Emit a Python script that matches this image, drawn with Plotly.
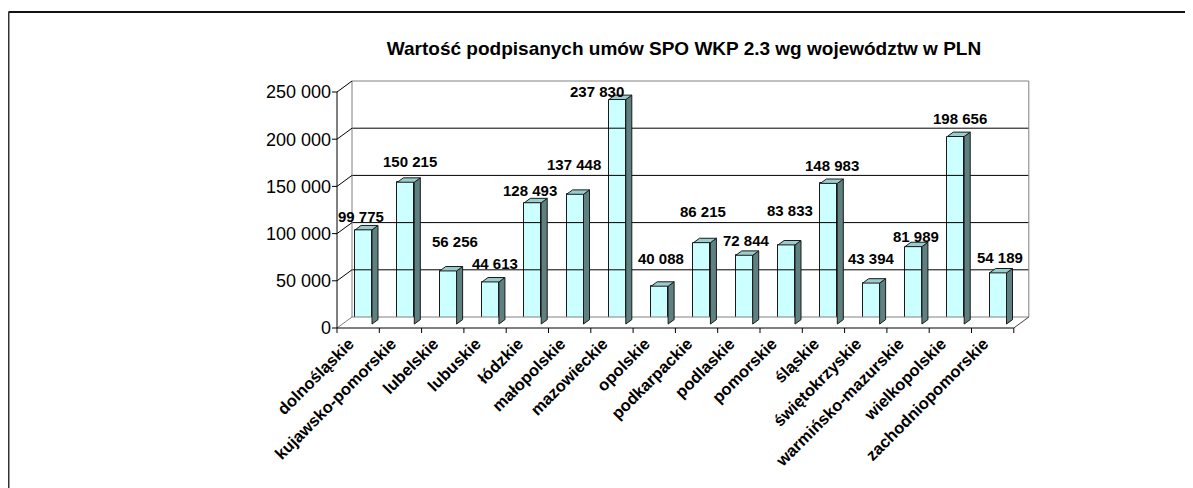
import plotly.graph_objects as go

# ---------------- data ----------------
categories = ["dolnośląskie", "kujawsko-pomorskie", "lubelskie", "lubuskie", "łódzkie",
              "małopolskie", "mazowieckie", "opolskie", "podkarpackie", "podlaskie",
              "pomorskie", "śląskie", "świętokrzyskie", "warmińsko-mazurskie",
              "wielkopolskie", "zachodniopomorskie"]
values = [99775, 150215, 56256, 44613, 128493, 137448, 237830, 40088,
          86215, 72844, 83833, 148983, 43394, 81989, 198656, 54189]
y_ticks = [0, 50000, 100000, 150000, 200000, 250000]
y_tick_labels = ["0", "50 000", "100 000", "150 000", "200 000", "250 000"]
title = "Wartość podpisanych umów SPO WKP 2.3 wg województw w PLN"

# label placement tweaks (pixels, relative to bar top) - layout only
label_dx = [2.5, 9.5, 12, 10, 3, 4, -15, 7, 6, 8, 9, 8.5, 6, 8, 9.6, 7]
label_dy = [13, 20.5, 29, 18.6, 12.7, 30, 8, 28, 31.6, 15, 34, 18, 25, 10.6, 18.5, 15]

# ---------------- geometry ----------------
OFF = 8                          # page body margin
W, H = 1193, 488
ML, MR, MT, MB = 332 - OFF, 162 + OFF, 80 - OFF, 155 + OFF
X0_PX, Y0_PX = 337 - OFF, 328 - OFF   # pixel position of the front origin
PX_X = 42.3                      # pixels per category
PX_Y = 236 / 250000              # pixels per value unit
plot_w = W - ML - MR
plot_h = H - MT - MB
x_range = [(ML - X0_PX) / PX_X, (ML + plot_w - X0_PX) / PX_X]
y_range = [-(H - MB - Y0_PX) / PX_Y, (Y0_PX - MT) / PX_Y]

DX = 15 / PX_X       # depth offset of back wall (x units)
DY = 11 / PX_Y       # depth offset of back wall (y units)
n = len(categories)
ymax = y_ticks[-1]

F0 = 0.36            # bar front depth fraction
DEP = 0.40           # bar depth fraction
BW = 0.40            # bar width (category units)

FRONT = "#CCFFFF"
SIDE = "#5F8080"
TOP = "#99CCCC"
EDGE = "#1a1a1a"
GRAY = "#808080"
FONT = "Liberation Sans, Arial"

fig = go.Figure()


def segs(segments, color, width=1):
    xs, ys = [], []
    for (x1, y1), (x2, y2) in segments:
        xs += [x1, x2, None]
        ys += [y1, y2, None]
    fig.add_trace(go.Scatter(x=xs, y=ys, mode="lines", hoverinfo="skip",
                             line=dict(color=color, width=width), showlegend=False))


# floor & walls
fig.add_trace(go.Scatter(x=[0, n, n + DX, DX, 0], y=[0, 0, DY, DY, 0], mode="lines",
                         fill="toself", fillcolor="white", line=dict(width=0),
                         hoverinfo="skip", showlegend=False))
segs([((DX, v + DY), (n + DX, v + DY)) for v in y_ticks if v not in (0, ymax)], "#000000")
segs([((DX, v + DY), (n + DX, v + DY)) for v in (0, ymax)], GRAY)
segs([((DX, DY), (DX, ymax + DY)), ((n + DX, DY), (n + DX, ymax + DY))], GRAY)
segs([((0, v), (DX, v + DY)) for v in y_ticks if v != 0], "#000000")
segs([((0, 0), (DX, DY))], GRAY)
segs([((n, 0), (n + DX, DY))], "#404040")
# front axes
segs([((0, 0), (n, 0)), ((0, 0), (0, ymax))], "#000000")
# tick marks
segs([((-5 / PX_X, v), (0, v)) for v in y_ticks], "#000000")
segs([((i, 0), (i, -5 / PX_Y)) for i in range(n + 1)], "#000000")

# bars: front faces
centers = [i + 0.5 for i in range(n)]
fig.add_trace(go.Bar(x=[c + F0 * DX for c in centers], y=values, base=F0 * DY, width=BW,
                     marker=dict(color=FRONT, line=dict(color=EDGE, width=1)),
                     hoverinfo="skip", showlegend=False))

# side and top faces
for c, v in zip(centers, values):
    xl = c - BW / 2 + F0 * DX
    xr = xl + BW
    yb = F0 * DY
    yt = v + F0 * DY
    ddx, ddy = DEP * DX, DEP * DY
    fig.add_trace(go.Scatter(x=[xr, xr + ddx, xr + ddx, xr, xr],
                             y=[yb, yb + ddy, yt + ddy, yt, yb],
                             mode="lines", fill="toself", fillcolor=SIDE,
                             line=dict(color=EDGE, width=1), hoverinfo="skip", showlegend=False))
    fig.add_trace(go.Scatter(x=[xl, xr, xr + ddx, xl + ddx, xl],
                             y=[yt, yt, yt + ddy, yt + ddy, yt],
                             mode="lines", fill="toself", fillcolor=TOP,
                             line=dict(color=EDGE, width=1), hoverinfo="skip", showlegend=False))

# value labels
for c, v, ldx, ldy in zip(centers, values, label_dx, label_dy):
    fig.add_annotation(x=c, y=v + F0 * DY, text=f"{v:,}".replace(",", " "),
                       showarrow=False, xshift=ldx, yshift=ldy,
                       xanchor="center", yanchor="middle",
                       font=dict(family=FONT, size=15, color="black", weight="bold"))


# frame border (top and left visible)
def px2paper_x(px):
    return (px - OFF - ML) / plot_w


def px2paper_y(py):
    return (H - MB - (py - OFF)) / plot_h


fig.add_shape(type="line", xref="paper", yref="paper",
              x0=px2paper_x(8.5), y0=px2paper_y(12), x1=px2paper_x(W + 20), y1=px2paper_y(12),
              line=dict(color="#111111", width=2))
fig.add_shape(type="line", xref="paper", yref="paper",
              x0=px2paper_x(8.5), y0=px2paper_y(12), x1=px2paper_x(8.5), y1=px2paper_y(H + 20),
              line=dict(color="#333333", width=2))

fig.update_layout(
    template="none",
    width=W, height=H,
    margin=dict(l=ML, r=MR, t=MT, b=MB, pad=0, autoexpand=False),
    paper_bgcolor="white", plot_bgcolor="white",
    title=dict(text=title, x=(684 - OFF) / W, xanchor="center", y=1 - (48 - OFF) / H, yanchor="middle",
               font=dict(family=FONT, size=19, color="black", weight="bold")),
    xaxis=dict(range=x_range, showgrid=False, zeroline=False, showline=False, automargin=False,
               tickvals=centers, ticktext=categories, tickangle=-45, ticks="",
               ticklabelshift=-9, ticklabelstandoff=-3,
               tickfont=dict(family=FONT, size=16.5, color="black", weight="bold"),
               fixedrange=True),
    yaxis=dict(range=y_range, showgrid=False, zeroline=False, showline=False, automargin=False,
               tickvals=y_ticks, ticktext=y_tick_labels, ticks="",
               tickfont=dict(family=FONT, size=18, color="black"),
               fixedrange=True),
    showlegend=False,
    bargap=0,
)

fig.write_html("out.html")
